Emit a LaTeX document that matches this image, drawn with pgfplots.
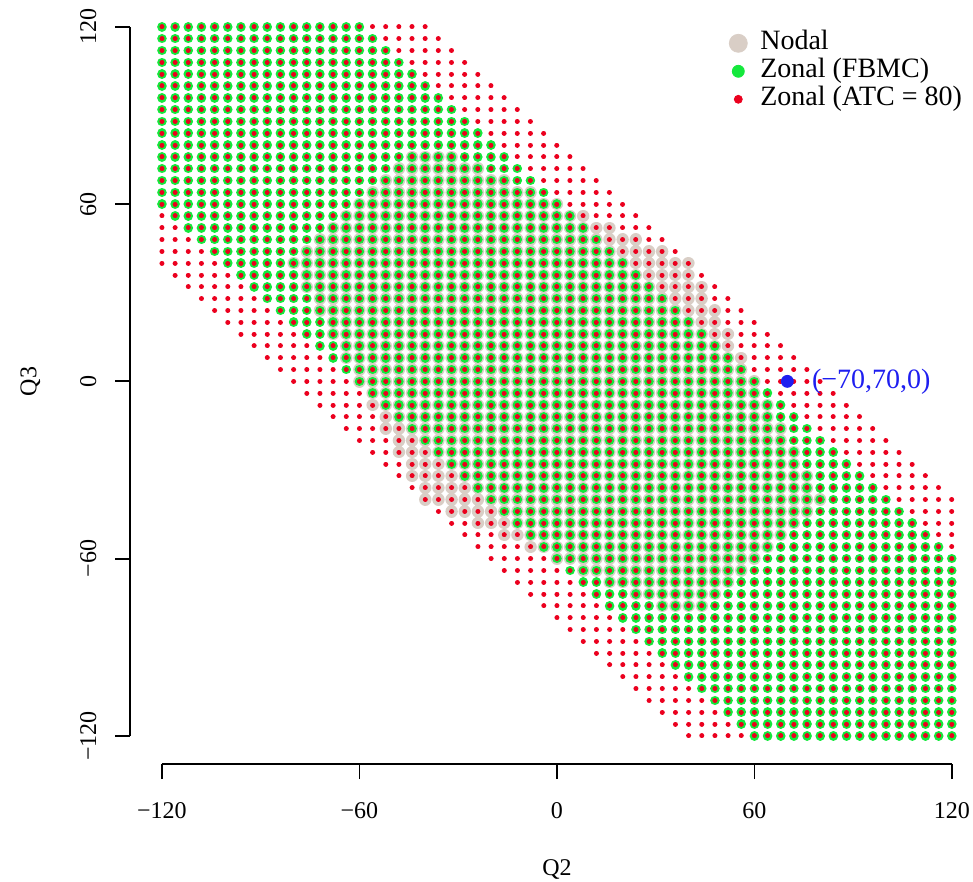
\documentclass[border=0pt]{standalone}
\usepackage{fontspec}
\setmainfont{Liberation Serif}
\usepackage{pgfplots}
\pgfplotsset{compat=1.18}
\usepackage{pgfplotstable}

\definecolor{nodalc}{RGB}{217,206,198}
\definecolor{fbmcc}{RGB}{20,232,60}
\definecolor{atcc}{RGB}{235,0,30}
\definecolor{ptblue}{RGB}{30,30,240}

% each row of grid points (step 4) as a segment: x0 y, x1 y, break
\pgfplotstableread[row sep=\\]{
x y\\
-40 80\\ -40 80\\ nan nan\\
-44 76\\ -32 76\\ nan nan\\
-48 72\\ -24 72\\ nan nan\\
-52 68\\ -16 68\\ nan nan\\
-56 64\\ -8 64\\ nan nan\\
-60 60\\ 0 60\\ nan nan\\
-64 56\\ 8 56\\ nan nan\\
-68 52\\ 16 52\\ nan nan\\
-72 48\\ 24 48\\ nan nan\\
-76 44\\ 32 44\\ nan nan\\
-80 40\\ 40 40\\ nan nan\\
-76 36\\ 40 36\\ nan nan\\
-76 32\\ 44 32\\ nan nan\\
-72 28\\ 44 28\\ nan nan\\
-72 24\\ 48 24\\ nan nan\\
-68 20\\ 48 20\\ nan nan\\
-68 16\\ 52 16\\ nan nan\\
-64 12\\ 52 12\\ nan nan\\
-64 8\\ 56 8\\ nan nan\\
-60 4\\ 56 4\\ nan nan\\
-60 0\\ 60 0\\ nan nan\\
-56 -4\\ 60 -4\\ nan nan\\
-56 -8\\ 64 -8\\ nan nan\\
-52 -12\\ 64 -12\\ nan nan\\
-52 -16\\ 68 -16\\ nan nan\\
-48 -20\\ 68 -20\\ nan nan\\
-48 -24\\ 72 -24\\ nan nan\\
-44 -28\\ 72 -28\\ nan nan\\
-44 -32\\ 76 -32\\ nan nan\\
-40 -36\\ 76 -36\\ nan nan\\
-40 -40\\ 80 -40\\ nan nan\\
-32 -44\\ 76 -44\\ nan nan\\
-24 -48\\ 72 -48\\ nan nan\\
-16 -52\\ 68 -52\\ nan nan\\
-8 -56\\ 64 -56\\ nan nan\\
0 -60\\ 60 -60\\ nan nan\\
8 -64\\ 56 -64\\ nan nan\\
16 -68\\ 52 -68\\ nan nan\\
24 -72\\ 48 -72\\ nan nan\\
32 -76\\ 44 -76\\ nan nan\\
40 -80\\ 40 -80\\ nan nan\\
}\nodal

\pgfplotstableread[row sep=\\]{
x y\\
-120 120\\ -60 120\\ nan nan\\
-120 116\\ -56 116\\ nan nan\\
-120 112\\ -52 112\\ nan nan\\
-120 108\\ -48 108\\ nan nan\\
-120 104\\ -44 104\\ nan nan\\
-120 100\\ -40 100\\ nan nan\\
-120 96\\ -36 96\\ nan nan\\
-120 92\\ -32 92\\ nan nan\\
-120 88\\ -28 88\\ nan nan\\
-120 84\\ -24 84\\ nan nan\\
-120 80\\ -20 80\\ nan nan\\
-120 76\\ -16 76\\ nan nan\\
-120 72\\ -12 72\\ nan nan\\
-120 68\\ -8 68\\ nan nan\\
-120 64\\ -4 64\\ nan nan\\
-120 60\\ 0 60\\ nan nan\\
-116 56\\ 4 56\\ nan nan\\
-112 52\\ 8 52\\ nan nan\\
-108 48\\ 12 48\\ nan nan\\
-104 44\\ 16 44\\ nan nan\\
-100 40\\ 20 40\\ nan nan\\
-96 36\\ 24 36\\ nan nan\\
-92 32\\ 28 32\\ nan nan\\
-88 28\\ 32 28\\ nan nan\\
-84 24\\ 36 24\\ nan nan\\
-80 20\\ 40 20\\ nan nan\\
-76 16\\ 44 16\\ nan nan\\
-72 12\\ 48 12\\ nan nan\\
-68 8\\ 52 8\\ nan nan\\
-64 4\\ 56 4\\ nan nan\\
-60 0\\ 60 0\\ nan nan\\
-56 -4\\ 64 -4\\ nan nan\\
-52 -8\\ 68 -8\\ nan nan\\
-48 -12\\ 72 -12\\ nan nan\\
-44 -16\\ 76 -16\\ nan nan\\
-40 -20\\ 80 -20\\ nan nan\\
-36 -24\\ 84 -24\\ nan nan\\
-32 -28\\ 88 -28\\ nan nan\\
-28 -32\\ 92 -32\\ nan nan\\
-24 -36\\ 96 -36\\ nan nan\\
-20 -40\\ 100 -40\\ nan nan\\
-16 -44\\ 104 -44\\ nan nan\\
-12 -48\\ 108 -48\\ nan nan\\
-8 -52\\ 112 -52\\ nan nan\\
-4 -56\\ 116 -56\\ nan nan\\
0 -60\\ 120 -60\\ nan nan\\
4 -64\\ 120 -64\\ nan nan\\
8 -68\\ 120 -68\\ nan nan\\
12 -72\\ 120 -72\\ nan nan\\
16 -76\\ 120 -76\\ nan nan\\
20 -80\\ 120 -80\\ nan nan\\
24 -84\\ 120 -84\\ nan nan\\
28 -88\\ 120 -88\\ nan nan\\
32 -92\\ 120 -92\\ nan nan\\
36 -96\\ 120 -96\\ nan nan\\
40 -100\\ 120 -100\\ nan nan\\
44 -104\\ 120 -104\\ nan nan\\
48 -108\\ 120 -108\\ nan nan\\
52 -112\\ 120 -112\\ nan nan\\
56 -116\\ 120 -116\\ nan nan\\
60 -120\\ 120 -120\\ nan nan\\
}\fbmc

\pgfplotstableread[row sep=\\]{
x y\\
-120 120\\ -40 120\\ nan nan\\
-120 116\\ -36 116\\ nan nan\\
-120 112\\ -32 112\\ nan nan\\
-120 108\\ -28 108\\ nan nan\\
-120 104\\ -24 104\\ nan nan\\
-120 100\\ -20 100\\ nan nan\\
-120 96\\ -16 96\\ nan nan\\
-120 92\\ -12 92\\ nan nan\\
-120 88\\ -8 88\\ nan nan\\
-120 84\\ -4 84\\ nan nan\\
-120 80\\ 0 80\\ nan nan\\
-120 76\\ 4 76\\ nan nan\\
-120 72\\ 8 72\\ nan nan\\
-120 68\\ 12 68\\ nan nan\\
-120 64\\ 16 64\\ nan nan\\
-120 60\\ 20 60\\ nan nan\\
-120 56\\ 24 56\\ nan nan\\
-120 52\\ 28 52\\ nan nan\\
-120 48\\ 32 48\\ nan nan\\
-120 44\\ 36 44\\ nan nan\\
-120 40\\ 40 40\\ nan nan\\
-116 36\\ 44 36\\ nan nan\\
-112 32\\ 48 32\\ nan nan\\
-108 28\\ 52 28\\ nan nan\\
-104 24\\ 56 24\\ nan nan\\
-100 20\\ 60 20\\ nan nan\\
-96 16\\ 64 16\\ nan nan\\
-92 12\\ 68 12\\ nan nan\\
-88 8\\ 72 8\\ nan nan\\
-84 4\\ 76 4\\ nan nan\\
-80 0\\ 80 0\\ nan nan\\
-76 -4\\ 84 -4\\ nan nan\\
-72 -8\\ 88 -8\\ nan nan\\
-68 -12\\ 92 -12\\ nan nan\\
-64 -16\\ 96 -16\\ nan nan\\
-60 -20\\ 100 -20\\ nan nan\\
-56 -24\\ 104 -24\\ nan nan\\
-52 -28\\ 108 -28\\ nan nan\\
-48 -32\\ 112 -32\\ nan nan\\
-44 -36\\ 116 -36\\ nan nan\\
-40 -40\\ 120 -40\\ nan nan\\
-36 -44\\ 120 -44\\ nan nan\\
-32 -48\\ 120 -48\\ nan nan\\
-28 -52\\ 120 -52\\ nan nan\\
-24 -56\\ 120 -56\\ nan nan\\
-20 -60\\ 120 -60\\ nan nan\\
-16 -64\\ 120 -64\\ nan nan\\
-12 -68\\ 120 -68\\ nan nan\\
-8 -72\\ 120 -72\\ nan nan\\
-4 -76\\ 120 -76\\ nan nan\\
0 -80\\ 120 -80\\ nan nan\\
4 -84\\ 120 -84\\ nan nan\\
8 -88\\ 120 -88\\ nan nan\\
12 -92\\ 120 -92\\ nan nan\\
16 -96\\ 120 -96\\ nan nan\\
20 -100\\ 120 -100\\ nan nan\\
24 -104\\ 120 -104\\ nan nan\\
28 -108\\ 120 -108\\ nan nan\\
32 -112\\ 120 -112\\ nan nan\\
36 -116\\ 120 -116\\ nan nan\\
40 -120\\ 120 -120\\ nan nan\\
}\atc

\begin{document}
\begin{tikzpicture}
\begin{axis}[
    x=1.64583pt, y=1.47708pt,
    xmin=-129.6, xmax=129.6, ymin=-129.6, ymax=129.6,
    axis x line*=bottom, axis y line*=left,
    x axis line style={draw=none}, y axis line style={draw=none},
    clip=false,
    unbounded coords=jump,
    xtick={-120,-60,0,60,120},
    ytick={-120,-60,0,60,120},
    xticklabels={−120,−60,0,60,120},
    yticklabels={−120,−60,0,60,120},
    tick align=outside,
    major tick length=7.5pt,
    tick style={line width=0.9pt, black},
    every tick label/.append style={font=\fontsize{12}{12}\selectfont},
    xticklabel style={yshift=-8pt},
    yticklabel style={rotate=90, anchor=south, yshift=6pt},
    xlabel={Q2}, ylabel={Q3},
    label style={font=\fontsize{12}{12}\selectfont},
    xlabel style={at={(axis description cs:0.5,0)}, anchor=center, yshift=-52.5pt},
    ylabel style={at={(axis description cs:0,0.5)}, anchor=center, yshift=50pt},
    legend style={draw=none, fill=none, at={(axis cs:48.9,120.5)}, anchor=north west,
        font=\fontsize{14}{14}\selectfont, row sep=0.5pt, column sep=4pt,
        nodes={inner sep=0pt, text height=10pt, text depth=3.5pt}},
    legend cell align=left,
    legend image code/.code={\path[draw=none, fill=none] (-7pt,-3pt) rectangle (7pt,3pt);
        \draw[#1] plot coordinates {(0pt,0pt)};},
]
\addlegendimage{only marks, mark=*, mark size=4.5pt, color=nodalc}
\addlegendentry{Nodal}
\addlegendimage{only marks, mark=*, mark size=3pt, color=fbmcc}
\addlegendentry{Zonal (FBMC)}
\addlegendimage{only marks, mark=*, mark size=2pt, color=atcc}
\addlegendentry{Zonal (ATC = 80)}

\addplot[forget plot, mark=none, color=nodalc, line width=6.2pt, line cap=round,
    dash pattern=on 0.01pt off 6.57pt] table {\nodal};
\addplot[forget plot, mark=none, color=fbmcc, line width=4.8pt, line cap=round,
    dash pattern=on 0.01pt off 6.57pt] table {\fbmc};
\addplot[forget plot, mark=none, color=atcc, line width=2.5pt, line cap=round,
    dash pattern=on 0.01pt off 6.57pt] table {\atc};

\addplot[forget plot, only marks, mark=*, mark size=3pt, color=ptblue]
    coordinates {(70,0)};
\node[anchor=west, inner sep=0pt, text=ptblue, font=\fontsize{14}{14}\selectfont]
    at (axis cs:77.4,0) {(−70,70,0)};

\draw[line width=0.9pt] (axis cs:-120,-129.6) -- (axis cs:120,-129.6);
\draw[line width=0.9pt] (axis cs:-129.6,-120) -- (axis cs:-129.6,120);

\coordinate (bbsw) at (axis cs:-169.2,-169.4);
\coordinate (bbne) at (axis cs:126.4,129.1);
\end{axis}
\pgfresetboundingbox
\useasboundingbox (bbsw) rectangle (bbne);
\end{tikzpicture}
\end{document}
